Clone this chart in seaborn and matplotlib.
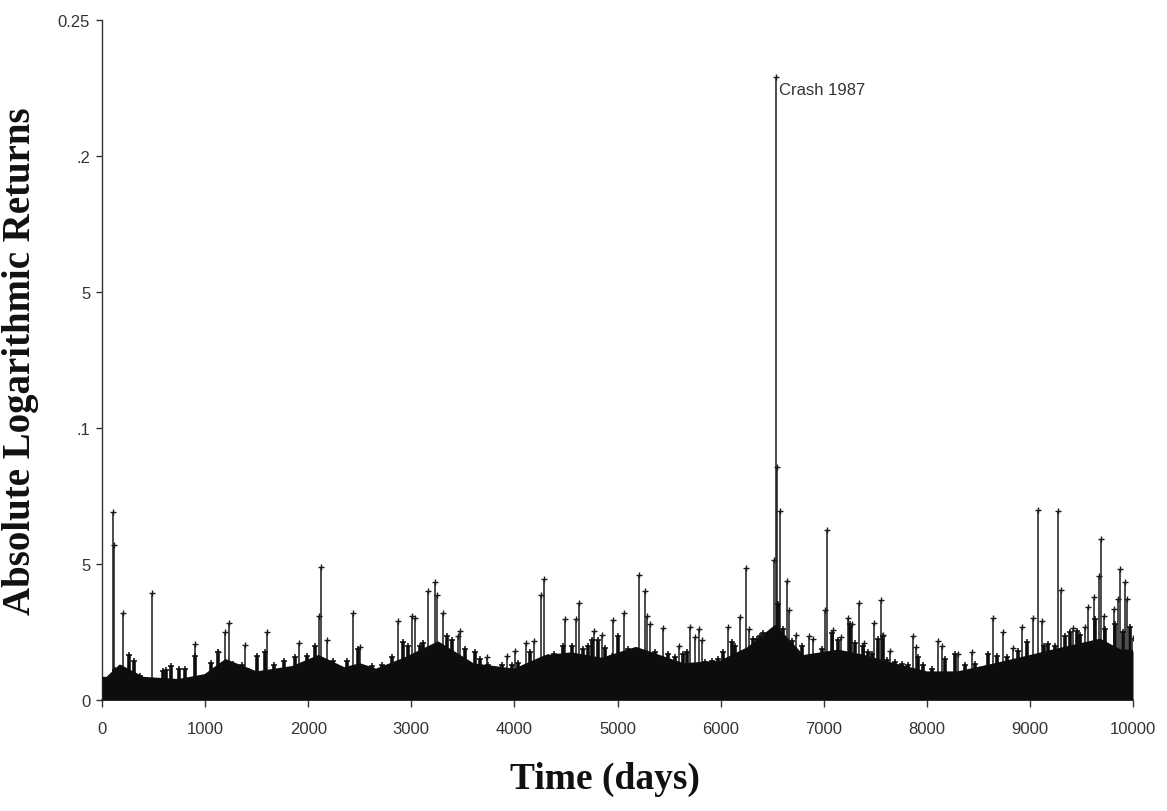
import matplotlib
matplotlib.use("Agg")
import matplotlib.pyplot as plt
import seaborn as sns
import pandas as pd

# ---- data ----
# dense black band (top of the solid mass of daily returns)
band_days = [0, 50, 175, 400, 740, 1000, 1200, 1500, 1850, 2100, 2350, 2500, 2660,
             2930, 3260, 3600, 4000, 4300, 4550, 4850, 5180, 5640, 6000, 6270, 6530,
             6800, 7140, 7400, 7580, 8000, 8300, 8660, 9000, 9220, 9450, 9680, 9880, 10000]
band_level = [0.0080, 0.0080, 0.0125, 0.0080, 0.0072, 0.0090, 0.0145, 0.0100, 0.0120,
              0.0160, 0.0115, 0.0130, 0.0110, 0.0150, 0.0210, 0.0130, 0.0110, 0.0160,
              0.0170, 0.0150, 0.0190, 0.0130, 0.0140, 0.0190, 0.0270, 0.0160, 0.0180,
              0.0160, 0.0140, 0.0100, 0.0100, 0.0130, 0.0160, 0.0180, 0.0200, 0.0220,
              0.0180, 0.0180]

# medium returns forming the ragged top of the band
med_days = [130, 262, 313, 369, 592, 620, 669, 750, 808, 902, 1015, 1060, 1122, 1274,
            1355, 1423, 1500, 1581, 1665, 1770, 1872, 1985, 2066, 2237, 2325, 2373,
            2486, 2615, 2712, 2810, 2923, 2971, 3084, 3117, 3343, 3392, 3521, 3618,
            3666, 3748, 3877, 3974, 4038, 4151, 4329, 4388, 4474, 4555, 4668, 4717,
            4750, 4814, 4878, 4943, 5008, 5105, 5170, 5364, 5493, 5557, 5638, 5671,
            5849, 5913, 5977, 6026, 6107, 6140, 6317, 6349, 6381, 6413, 6560, 6608,
            6689, 6786, 6980, 7077, 7135, 7255, 7303, 7384, 7432, 7465, 7578, 7530,
            7610, 7691, 7756, 7820, 7918, 7966, 8047, 8176, 8273, 8370, 8467, 8597,
            8678, 8775, 8888, 8969, 9132, 9180, 9245, 9340, 9389, 9453, 9486, 9631,
            9728, 9760, 9825, 9906, 9970]
med_vals = [0.0110, 0.0165, 0.0145, 0.0090, 0.0108, 0.0110, 0.0126, 0.0115, 0.0115,
            0.0163, 0.0090, 0.0135, 0.0175, 0.0132, 0.0128, 0.0105, 0.0160, 0.0176,
            0.0128, 0.0145, 0.0157, 0.0160, 0.0200, 0.0145, 0.0112, 0.0145, 0.0187,
            0.0126, 0.0130, 0.0157, 0.0212, 0.0200, 0.0200, 0.0210, 0.0237, 0.0220,
            0.0188, 0.0175, 0.0150, 0.0128, 0.0130, 0.0130, 0.0136, 0.0175, 0.0157,
            0.0170, 0.0200, 0.0200, 0.0188, 0.0200, 0.0220, 0.0220, 0.0190, 0.0160,
            0.0237, 0.0187, 0.0170, 0.0175, 0.0170, 0.0157, 0.0170, 0.0175, 0.0139,
            0.0145, 0.0150, 0.0175, 0.0212, 0.0200, 0.0224, 0.0224, 0.0237, 0.0245,
            0.0353, 0.0260, 0.0215, 0.0200, 0.0187, 0.0245, 0.0220, 0.0280, 0.0210,
            0.0200, 0.0175, 0.0170, 0.0237, 0.0224, 0.0146, 0.0139, 0.0133, 0.0127,
            0.0157, 0.0127, 0.0115, 0.0151, 0.0169, 0.0127, 0.0133, 0.0169, 0.0163,
            0.0157, 0.0180, 0.0212, 0.0200, 0.0206, 0.0200, 0.0237, 0.0250, 0.0255,
            0.0240, 0.0298, 0.0260, 0.0200, 0.0280, 0.0250, 0.0270]

# isolated larger returns
spike_days = [104, 116, 207, 482, 902, 1125, 1193, 1235, 1387, 1597, 1910, 2105, 2124,
              2182, 2432, 2502, 2874, 3010, 3040, 3159, 3230, 3246, 3304, 3450, 3472,
              3737, 3925, 4006, 4109, 4190, 4258, 4287, 4491, 4600, 4623, 4775, 4847,
              4960, 5060, 5212, 5267, 5290, 5320, 5445, 5600, 5703, 5750, 5795, 5820,
              6075, 6188, 6243, 6278, 6400, 6522, 6537, 6545, 6573, 6647, 6668, 6730,
              6860, 6900, 7015, 7032, 7093, 7170, 7236, 7270, 7345, 7390, 7488, 7553,
              7580, 7643, 7870, 7900, 8112, 8150, 8305, 8441, 8645, 8736, 8840, 8920,
              9027, 9075, 9120, 9270, 9298, 9420, 9535, 9567, 9618, 9670, 9690, 9720,
              9816, 9850, 9874, 9922, 9945, 9997]
spike_vals = [0.0690, 0.0570, 0.0320, 0.0392, 0.0206, 0.0175, 0.0250, 0.0283, 0.0203,
              0.0250, 0.0210, 0.0310, 0.0488, 0.0220, 0.0320, 0.0194, 0.0292, 0.0310,
              0.0300, 0.0402, 0.0433, 0.0385, 0.0320, 0.0237, 0.0255, 0.0157, 0.0163,
              0.0181, 0.0210, 0.0218, 0.0387, 0.0445, 0.0298, 0.0299, 0.0355, 0.0255,
              0.0240, 0.0294, 0.0320, 0.0460, 0.0400, 0.0310, 0.0280, 0.0263, 0.0200,
              0.0270, 0.0230, 0.0260, 0.0220, 0.0270, 0.0306, 0.0484, 0.0260, 0.0240,
              0.0516, 0.2290, 0.0855, 0.0696, 0.0436, 0.0330, 0.0240, 0.0235, 0.0225,
              0.0330, 0.0625, 0.0258, 0.0230, 0.0300, 0.0280, 0.0358, 0.0210, 0.0284,
              0.0368, 0.0240, 0.0180, 0.0234, 0.0195, 0.0218, 0.0200, 0.0170, 0.0175,
              0.0303, 0.0249, 0.0190, 0.0267, 0.0300, 0.0700, 0.0290, 0.0695, 0.0405,
              0.0263, 0.0270, 0.0340, 0.0380, 0.0455, 0.0590, 0.0310, 0.0335, 0.0370,
              0.0482, 0.0435, 0.0370, 0.0228]

x_ticks = [0, 1000, 2000, 3000, 4000, 5000, 6000, 7000, 8000, 9000, 10000]
y_ticks = [0, 0.05, 0.10, 0.15, 0.20, 0.25]
y_tick_labels = ["0", "5", ".1", "5", ".2", "0.25"]
annotation_text = "Crash 1987"
crash_day = 6537
crash_val = 0.2290

# ---- figure ----
sns.set_style("ticks")
plt.rcParams["font.family"] = ["Liberation Sans", "DejaVu Sans"]

fig = plt.figure(figsize=(11.67, 8.12), dpi=100)
ax = fig.add_axes([102 / 1167, 1 - 701 / 812, 1031 / 1167, (701 - 20.7) / 812])

band = pd.DataFrame({"day": band_days, "level": band_level})
med = pd.DataFrame({"day": med_days, "val": med_vals})
spikes = pd.DataFrame({"day": spike_days, "val": spike_vals})

ink = "#0d0d0d"
ax.fill_between(band["day"], 0, band["level"], color=ink, lw=0, zorder=3)
sns.lineplot(data=band, x="day", y="level", ax=ax, color=ink, lw=2.0, zorder=3)

ax.vlines(med["day"], 0, med["val"], color=ink, lw=2.6, zorder=3)
sns.scatterplot(data=med, x="day", y="val", ax=ax, marker="+", s=24,
                color=ink, linewidth=1.1, zorder=4)

ax.vlines(spikes["day"], 0, spikes["val"], color="#1a1a1a", lw=1.1, zorder=2)
sns.scatterplot(data=spikes, x="day", y="val", ax=ax, marker="+", s=24,
                color="#1a1a1a", linewidth=1.0, zorder=4)

ax.annotate(annotation_text, xy=(crash_day, crash_val), xytext=(2, -4),
            textcoords="offset points", ha="left", va="top",
            fontsize=12, color="#333333")

ax.set_xlim(0, 10000)
ax.set_ylim(0, 0.25)
ax.set_xticks(x_ticks)
ax.set_xticklabels([str(t) for t in x_ticks])
ax.set_yticks(y_ticks)
ax.set_yticklabels(y_tick_labels)

for s in ["top", "right"]:
    ax.spines[s].set_visible(False)
ax.spines["left"].set_color("#333333")
ax.spines["bottom"].set_color("#2e2a3a")
ax.spines["left"].set_linewidth(1.0)
ax.spines["bottom"].set_linewidth(1.2)

ax.tick_params(axis="y", direction="out", length=4.5, width=1.0, colors="#333333",
               labelsize=12, pad=4)
ax.tick_params(axis="x", direction="out", length=5, width=1.0, colors="#333333",
               labelsize=12, pad=10)

ax.set_xlabel("Time (days)", fontsize=27, fontweight="bold",
              family=["Liberation Serif", "DejaVu Serif"], color="#111111")
ax.set_ylabel("Absolute Logarithmic Returns", fontsize=28, fontweight="bold",
              family=["Liberation Serif", "DejaVu Serif"], color="#111111")
ax.xaxis.set_label_coords(0.488, -0.090)
ax.yaxis.set_label_coords(-0.061, 0.5)
ax.grid(False)

fig.savefig("out.png", dpi=100, facecolor="white")
